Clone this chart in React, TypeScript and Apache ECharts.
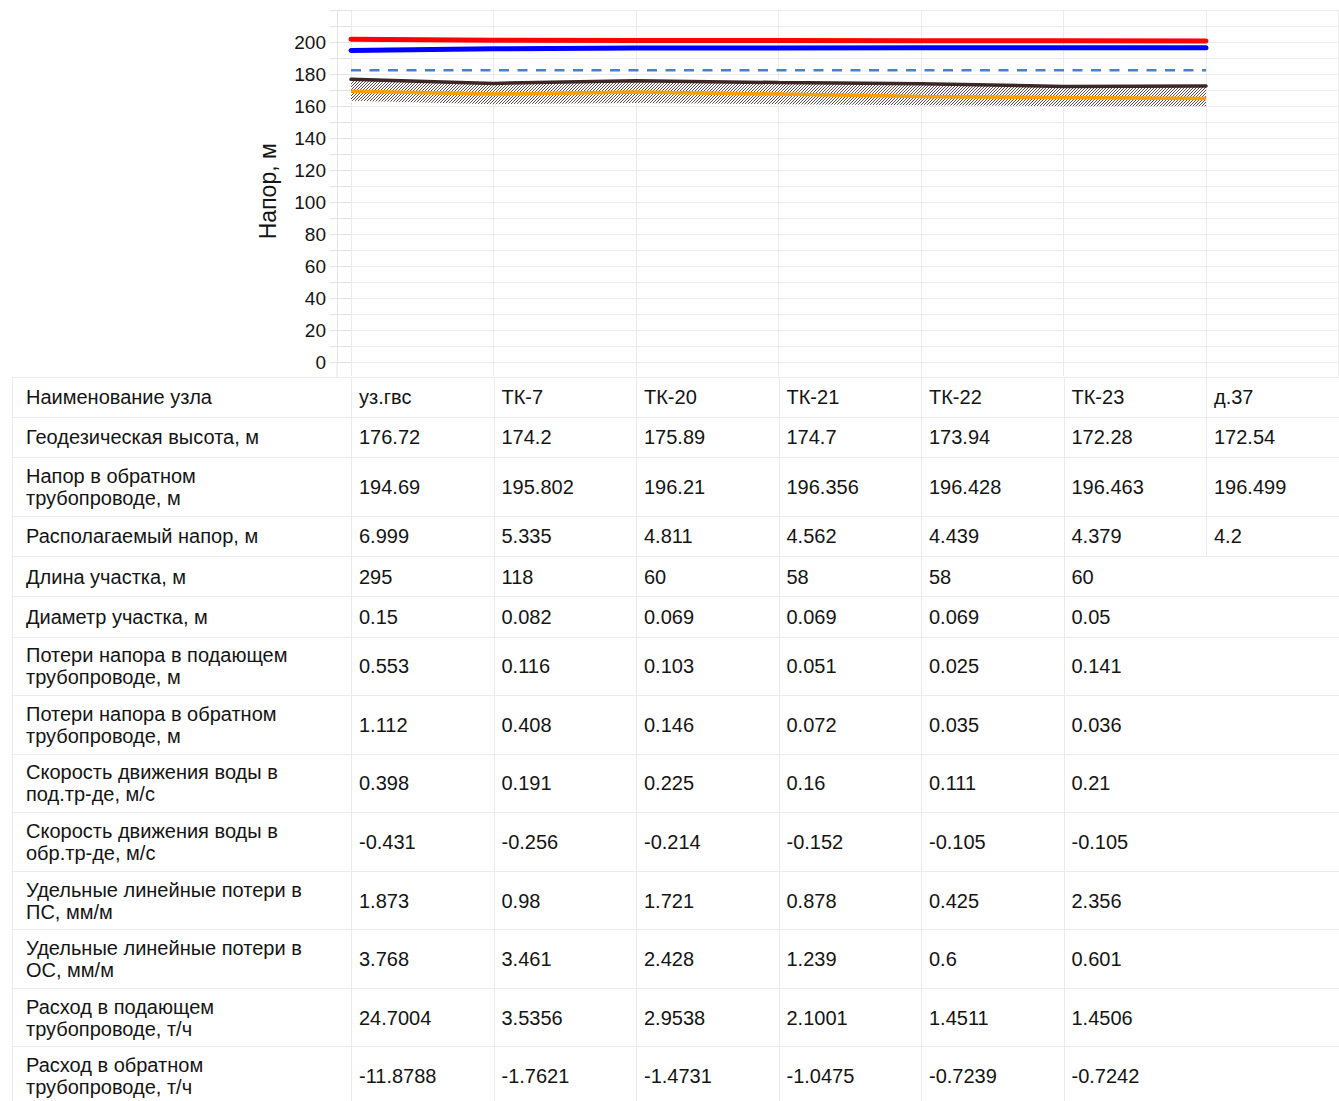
import React, { useEffect, useRef } from "react";
import * as echarts from "echarts";

// ---- data ----
const nodes = ["уз.гвс", "ТК-7", "ТК-20", "ТК-21", "ТК-22", "ТК-23", "д.37"];
const geoHeight = [176.72, 174.2, 175.89, 174.7, 173.94, 172.28, 172.54];
const returnHead = [194.69, 195.802, 196.21, 196.356, 196.428, 196.463, 196.499];
const supplyHead = [201.69, 201.14, 201.02, 200.92, 200.87, 200.84, 200.7];
const staticHead = [182.4, 182.4, 182.4, 182.4, 182.4, 182.4, 182.4];
const pipeAxis = [169.3, 167.5, 168.9, 167.5, 166.0, 165.4, 164.7];
const groundBottom = [163.3, 161.2, 162.0, 161.2, 160.6, 160.0, 160.0];

const yTicks = [0, 20, 40, 60, 80, 100, 120, 140, 160, 180, 200];

const rowLabels = [
  "Наименование узла",
  "Геодезическая высота, м",
  "Напор в обратном\nтрубопроводе, м",
  "Располагаемый напор, м",
  "Длина участка, м",
  "Диаметр участка, м",
  "Потери напора в подающем\nтрубопроводе, м",
  "Потери напора в обратном\nтрубопроводе, м",
  "Скорость движения воды в\nпод.тр-де, м/с",
  "Скорость движения воды в\nобр.тр-де, м/с",
  "Удельные линейные потери в\nПС, мм/м",
  "Удельные линейные потери в\nОС, мм/м",
  "Расход в подающем\nтрубопроводе, т/ч",
  "Расход в обратном\nтрубопроводе, т/ч",
];
const geoHeightRow = ["176.72", "174.2", "175.89", "174.7", "173.94", "172.28", "172.54"];
const returnHeadRow = ["194.69", "195.802", "196.21", "196.356", "196.428", "196.463", "196.499"];
const availableHeadRow = ["6.999", "5.335", "4.811", "4.562", "4.439", "4.379", "4.2"];
const lengthRow = ["295", "118", "60", "58", "58", "60"];
const diameterRow = ["0.15", "0.082", "0.069", "0.069", "0.069", "0.05"];
const lossSupplyRow = ["0.553", "0.116", "0.103", "0.051", "0.025", "0.141"];
const lossReturnRow = ["1.112", "0.408", "0.146", "0.072", "0.035", "0.036"];
const speedSupplyRow = ["0.398", "0.191", "0.225", "0.16", "0.111", "0.21"];
const speedReturnRow = ["-0.431", "-0.256", "-0.214", "-0.152", "-0.105", "-0.105"];
const specLossSupplyRow = ["1.873", "0.98", "1.721", "0.878", "0.425", "2.356"];
const specLossReturnRow = ["3.768", "3.461", "2.428", "1.239", "0.6", "0.601"];
const flowSupplyRow = ["24.7004", "3.5356", "2.9538", "2.1001", "1.4511", "1.4506"];
const flowReturnRow = ["-11.8788", "-1.7621", "-1.4731", "-1.0475", "-0.7239", "-0.7242"];

const tableRows = [
  nodes,
  geoHeightRow,
  returnHeadRow,
  availableHeadRow,
  lengthRow,
  diameterRow,
  lossSupplyRow,
  lossReturnRow,
  speedSupplyRow,
  speedReturnRow,
  specLossSupplyRow,
  specLossReturnRow,
  flowSupplyRow,
  flowReturnRow,
];

// ---- layout ----
const W = 1339;
const H = 1101;
const GRID_LEFT = 351;
const COL_W = 142.5;
const GRID_TOP = 10;
const GRID_H = 352.5;
const GRID_W = 987;
const TABLE_TOP = 376.5;
const TABLE_LEFT = 11.5;
const TABLE_RIGHT = 1345;
const ROW_H1 = 40.3;
const ROW_H2 = 58.55;
const FONT = '"Liberation Sans", Arial, Helvetica, sans-serif';
const BORDER = "#ececec";
const TEXT = "#141414";
const TABLE_FS = 20;

function buildTable(): any[] {
  const els: any[] = [];
  let y = TABLE_TOP;
  const bounds: number[] = [y];
  rowLabels.forEach((lab) => {
    const h = lab.includes("\n") ? ROW_H2 : ROW_H1;
    y += h;
    bounds.push(y);
  });
  const px = (v: number) => Math.round(v) + 0.5;
  bounds.forEach((b) => {
    els.push({
      type: "line",
      silent: true,
      shape: { x1: TABLE_LEFT, y1: px(b), x2: TABLE_RIGHT, y2: px(b) },
      style: { stroke: BORDER, lineWidth: 1 },
    });
  });
  // extension of the left axis line down to the table
  els.push({
    type: "line",
    silent: true,
    shape: { x1: GRID_LEFT - 14, y1: GRID_TOP + GRID_H, x2: GRID_LEFT - 14, y2: px(TABLE_TOP) },
    style: { stroke: "#e4e4e4", lineWidth: 1 },
  });
  for (let r = 0; r < rowLabels.length; r++) {
    const y1 = px(bounds[r]);
    const y2 = px(bounds[r + 1]);
    const xs = [TABLE_LEFT, GRID_LEFT - 0.5];
    const ncols = tableRows[r].length;
    for (let c = 1; c < ncols; c++) xs.push(GRID_LEFT + c * COL_W);
    xs.forEach((x) => {
      els.push({
        type: "line",
        silent: true,
        shape: { x1: px(x), y1, x2: px(x), y2 },
        style: { stroke: BORDER, lineWidth: 1 },
      });
    });
    const cy = (bounds[r] + bounds[r + 1]) / 2 + 0.5;
    els.push({
      type: "text",
      silent: true,
      x: 26,
      y: cy,
      style: {
        text: rowLabels[r],
        fontSize: TABLE_FS,
        fontFamily: FONT,
        fill: TEXT,
        verticalAlign: "middle",
        lineHeight: 22,
      },
    });
    tableRows[r].forEach((v, c) => {
      els.push({
        type: "text",
        silent: true,
        x: GRID_LEFT + c * COL_W + 8,
        y: cy,
        style: {
          text: v,
          fontSize: TABLE_FS,
          fontFamily: FONT,
          fill: TEXT,
          verticalAlign: "middle",
        },
      });
    });
  }
  return els;
}

export default function App() {
  const ref = useRef<HTMLDivElement>(null);

  useEffect(() => {
    if (!ref.current) return;
    const chart = echarts.init(ref.current, undefined, { renderer: "svg" });

    const tile = document.createElement("canvas");
    tile.width = 3;
    tile.height = 3;
    const ctx = tile.getContext("2d");
    if (ctx) {
      ctx.fillStyle = "#ffffff";
      ctx.fillRect(0, 0, 3, 3);
      ctx.fillStyle = "#5e4c4c";
      ctx.fillRect(0, 2, 1, 1);
      ctx.fillRect(1, 1, 1, 1);
      ctx.fillRect(2, 0, 1, 1);
    }
    const hatch = {
      image: tile.toDataURL(),
      repeat: "repeat",
      imageWidth: 3,
      imageHeight: 3,
    };

    const pts = (arr: number[]) => arr.map((v, i) => [i, v]);

    chart.setOption({
      animation: false,
      backgroundColor: "#ffffff",
      grid: { left: GRID_LEFT, top: GRID_TOP, width: GRID_W, height: GRID_H },
      xAxis: {
        type: "value",
        min: 0,
        max: GRID_W / COL_W,
        interval: 1,
        axisLine: { show: false },
        axisTick: { show: true, length: 14, lineStyle: { color: BORDER } },
        axisLabel: { show: false },
        splitLine: { show: true, lineStyle: { color: BORDER, width: 1 } },
      },
      yAxis: [
        {
          type: "value",
          min: 0,
          max: 220,
          interval: 10,
          name: "Напор, м",
          nameLocation: "middle",
          nameGap: 72,
          nameTextStyle: { fontSize: 23, fontFamily: FONT, color: TEXT, padding: [0, 10, 0, 0] },
          axisLine: { show: false },
          axisTick: { show: true, length: 21, lineStyle: { color: "#e4e4e4" } },
          axisLabel: {
            margin: 25,
            fontSize: 19,
            fontFamily: FONT,
            color: TEXT,
            formatter: (v: number) => (yTicks.includes(v) ? String(v) : ""),
          },
          splitLine: { show: true, lineStyle: { color: BORDER, width: 1 } },
        },
        {
          type: "value",
          position: "left",
          offset: 14,
          min: 0,
          max: 220,
          interval: 10,
          axisLine: { show: true, lineStyle: { color: "#e4e4e4", width: 1 } },
          axisTick: { show: false },
          axisLabel: { show: false },
          splitLine: { show: false },
        },
      ],
      series: [
        {
          type: "custom",
          name: "ground",
          silent: true,
          clip: true,
          data: [[0, geoHeight[0]]],
          renderItem: (_params: any, api: any) => {
            const top = geoHeight.map((v, i) => api.coord([i, v]));
            const bottom = groundBottom.map((v, i) => api.coord([i, v])).reverse();
            return {
              type: "polygon",
              shape: { points: top.concat(bottom) },
              style: { fill: hatch, stroke: null },
            };
          },
        },
        {
          type: "line",
          name: "pipe",
          data: pts(pipeAxis),
          symbol: "none",
          lineStyle: { color: "#ffa000", width: 3.5 },
        },
        {
          type: "line",
          name: "geo",
          data: pts(geoHeight),
          symbol: "none",
          lineStyle: { color: "#3d2626", width: 3.5, cap: "round" },
        },
        {
          type: "line",
          name: "static",
          data: pts(staticHead),
          symbol: "none",
          lineStyle: { color: "#4a80c4", width: 2.5, type: [10, 8.5] },
        },
        {
          type: "line",
          name: "return",
          data: pts(returnHead),
          symbol: "none",
          lineStyle: { color: "#0000ff", width: 5, cap: "round" },
        },
        {
          type: "line",
          name: "supply",
          data: pts(supplyHead),
          symbol: "none",
          lineStyle: { color: "#ff0000", width: 5, cap: "round" },
        },
      ],
      graphic: { elements: buildTable() },
    });

    return () => chart.dispose();
  }, []);

  return (
    <div
      ref={ref}
      style={{ position: "absolute", left: 0, top: 0, width: W, height: H, overflow: "hidden" }}
    />
  );
}
